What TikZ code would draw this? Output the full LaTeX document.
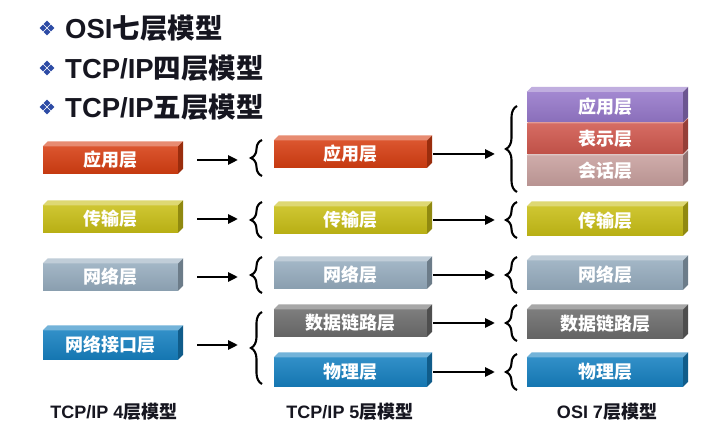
\documentclass[tikz,border=0pt]{standalone}
\usepackage{fontspec}
\setmainfont{Liberation Sans}
\newfontfamily\cjk{Noto Sans CJK SC}
\usetikzlibrary{arrows.meta,decorations.pathreplacing,calc}

\definecolor{cApp}{RGB}{214,62,18}
\definecolor{cTrans}{RGB}{200,190,22}
\definecolor{cNet}{RGB}{150,172,190}
\definecolor{cLink}{RGB}{108,108,108}
\definecolor{cPhy}{RGB}{22,128,192}
\definecolor{cOApp}{RGB}{150,120,202}
\definecolor{cPres}{RGB}{208,88,78}
\definecolor{cSess}{RGB}{200,160,158}
\definecolor{cHead}{RGB}{22,22,32}
\definecolor{cBul}{RGB}{45,75,165}

\newcommand\slabfaces[2]{%
  \fill[#2!60!white] (#1.north west) -- ++(5,-5) -- ($(#1.north east)+(5,-5)$) -- (#1.north east) -- cycle;
  \fill[#2!72!black] (#1.north east) -- ++(5,-5) -- ($(#1.south east)+(5,-5)$) -- (#1.south east) -- cycle;
}

\tikzset{
  slab/.style={minimum height=27pt, inner sep=0pt, top color=#1!88!white, bottom color=#1!92!black,
    draw=none, text=white, font=\cjk\bfseries\fontsize{18}{18}\selectfont},
  hd/.style={anchor=west, text=cHead, inner sep=0pt, font=\bfseries\fontsize{27.5}{27.5}\selectfont},
  lbl/.style={text=cHead, inner sep=0pt, font=\bfseries\fontsize{18}{18}\selectfont},
  brc/.style={line width=2.1pt, decorate, decoration={brace, amplitude=11pt}},
  arr/.style={line width=2.8pt, -{Triangle[length=10pt,width=9pt]}},
  bullet/.pic={
    \foreach \dx/\dy in {-4/0,4/0,0/-4,0/4}
      \fill[cBul] (\dx-3.3,\dy) -- (\dx,\dy-3.3) -- (\dx+3.3,\dy) -- (\dx,\dy+3.3) -- cycle;
  }
}

\begin{document}
\begin{tikzpicture}[x=1pt,y=-1pt]
\useasboundingbox[fill=white] (0,0) rectangle (720,443);

% headers
\pic at (47,28) {bullet};
\pic at (47,68) {bullet};
\pic at (47,107) {bullet};
\node[hd] (h1) at (65,28) {OSI{\cjk 七层模型}};
\node[hd] (h2) at (65,68) {TCP/IP{\cjk 四层模型}};
\node[hd] (h3) at (65,107) {TCP/IP{\cjk 五层模型}};

% column 1: TCP/IP 4 layers
\node[slab=cApp,   minimum width=135pt] (A1) at (110.5,160) {应用层};
\node[slab=cTrans, minimum width=135pt] (A2) at (110.5,219) {传输层};
\node[slab=cNet,   minimum width=135pt] (A3) at (110.5,277) {网络层};
\node[slab=cPhy,   minimum width=135pt, minimum height=29pt] (A4) at (110.5,345) {网络接口层};
\slabfaces{A1}{cApp}
\slabfaces{A2}{cTrans}
\slabfaces{A3}{cNet}
\slabfaces{A4}{cPhy}

% column 2: TCP/IP 5 layers
\node[slab=cApp,   minimum width=153pt] (B1) at (350.5,154) {应用层};
\node[slab=cTrans, minimum width=153pt] (B2) at (350.5,220) {传输层};
\node[slab=cNet,   minimum width=153pt] (B3) at (350.5,275) {网络层};
\node[slab=cLink,  minimum width=153pt] (B4) at (350.5,323) {数据链路层};
\node[slab=cPhy,   minimum width=153pt, minimum height=29pt] (B5) at (350.5,372) {物理层};
\slabfaces{B1}{cApp}
\slabfaces{B2}{cTrans}
\slabfaces{B3}{cNet}
\slabfaces{B4}{cLink}
\slabfaces{B5}{cPhy}

% column 3: OSI 7 layers
\node[slab=cSess,  minimum width=156pt, minimum height=30pt] (C3) at (605,170.5) {会话层};
\slabfaces{C3}{cSess}
\node[slab=cPres,  minimum width=156pt, minimum height=30pt] (C2) at (605,138.5) {表示层};
\slabfaces{C2}{cPres}
\node[slab=cOApp,  minimum width=156pt, minimum height=30pt] (C1) at (605,107) {应用层};
\slabfaces{C1}{cOApp}
\node[slab=cTrans, minimum width=156pt, minimum height=29pt] (C4) at (605,221) {传输层};
\node[slab=cNet,   minimum width=156pt, minimum height=29pt] (C5) at (605,275) {网络层};
\node[slab=cLink,  minimum width=156pt, minimum height=29pt] (C6) at (605,324) {数据链路层};
\node[slab=cPhy,   minimum width=156pt, minimum height=29pt] (C7) at (605,372) {物理层};
\slabfaces{C4}{cTrans}
\slabfaces{C5}{cNet}
\slabfaces{C6}{cLink}
\slabfaces{C7}{cPhy}

% braces before column 2
\draw[brc] (262,176) -- (262,140);
\draw[brc] (262,238) -- (262,202);
\draw[brc] (262,293) -- (262,257);
\draw[brc] (262,384) -- (262,312);
\coordinate (bB1) at (250,158);
\coordinate (bB2) at (250,220);
\coordinate (bB3) at (250,275);
\coordinate (bB4) at (250,348);

% braces before column 3
\draw[brc] (517,192) -- (517,106);
\draw[brc] (517,238) -- (517,202);
\draw[brc] (517,293) -- (517,257);
\draw[brc] (517,341) -- (517,305);
\draw[brc] (517,390) -- (517,354);
\coordinate (bC1) at (505,149);
\coordinate (bC4) at (505,220);
\coordinate (bC5) at (505,275);
\coordinate (bC6) at (505,323);
\coordinate (bC7) at (505,372);

% arrows column 1 -> braces
\foreach \n/\b in {A1/bB1,A2/bB2,A3/bB3,A4/bB4}
  \draw[arr, shorten <=19pt, shorten >=12pt] (\n.east) -- (\n.east -| \b);
% arrows column 2 -> braces
\foreach \n/\b in {B1/bC1,B2/bC4,B3/bC5,B4/bC6,B5/bC7}
  \draw[arr, shorten <=6pt, shorten >=10pt] (\n.east) -- (\n.east -| \b);

% bottom labels
\node[lbl] (L1) at (114,412) {TCP/IP 4{\cjk 层模型}};
\node[lbl] (L2) at (350,412) {TCP/IP 5{\cjk 层模型}};
\node[lbl] (L3) at (607,412) {OSI 7{\cjk 层模型}};
\end{tikzpicture}
\end{document}
